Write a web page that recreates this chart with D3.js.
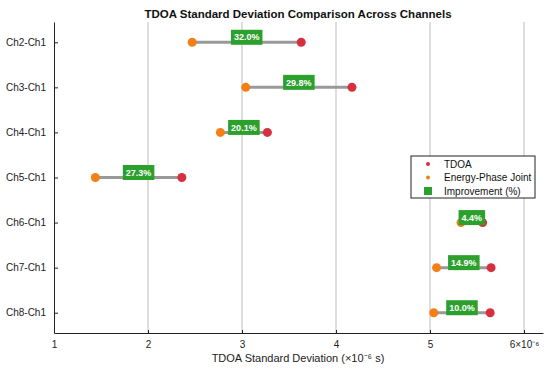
<!DOCTYPE html>
<html>
<head>
<meta charset="utf-8">
<script src="https://cdn.jsdelivr.net/npm/d3@7"></script>
<style>
  body { margin: 0; background: #fff; }
  text { font-family: "Liberation Sans", Arial, sans-serif; }
</style>
</head>
<body>
<svg width="550" height="371"></svg>
<script>
// values in units of 1e-6 s
const channels = ["Ch2-Ch1", "Ch3-Ch1", "Ch4-Ch1", "Ch5-Ch1", "Ch6-Ch1", "Ch7-Ch1", "Ch8-Ch1"];
const tdoaStd = [3.63, 4.17, 3.27, 2.36, 5.56, 5.65, 5.64];
const jointStd = [2.47, 3.04, 2.77, 1.44, 5.33, 5.07, 5.04];
const improvement = ["32.0%", "29.8%", "20.1%", "27.3%", "4.4%", "14.9%", "10.0%"];
const xTicks = [1, 2, 3, 4, 5, 6];

const red = "#d62f3f";
const orange = "#f57f17";
const green = "#2ca02c";

const svg = d3.select("svg");
const mLeft = 54, mRight = 543, mTop = 22, mBottom = 333;

// tick 6 lands at ~524
const x = d3.scaleLinear()
  .domain([1, 1 + (mRight - mLeft) / ((524 - mLeft) / 5)])
  .range([mLeft, mRight]);

const y = d3.scalePoint().domain(channels).range([mTop, mBottom]).padding(0.45);

// grid
svg.append("g")
  .selectAll("line")
  .data(xTicks.slice(1))
  .enter()
  .append("line")
  .attr("x1", d => x(d)).attr("x2", d => x(d))
  .attr("y1", mTop).attr("y2", mBottom)
  .attr("stroke", "#bdbdbd")
  .attr("stroke-width", 1);

// axes
const xAxis = d3.axisBottom(x).tickValues(xTicks).tickSizeInner(-3).tickSizeOuter(0).tickPadding(8)
  .tickFormat(d => d === 6 ? "6×10⁻⁶" : d);
const gx = svg.append("g").attr("transform", `translate(0,${mBottom})`).call(xAxis);
gx.select(".domain").attr("stroke", "#222");
gx.selectAll(".tick line").attr("stroke", "#222");
gx.selectAll("text").attr("font-size", 10).attr("fill", "#222");

const yAxis = d3.axisLeft(y).tickSizeInner(-4).tickSizeOuter(0).tickPadding(8);
const gy = svg.append("g").attr("transform", `translate(${mLeft},0)`).call(yAxis);
gy.select(".domain").attr("stroke", "#222");
gy.selectAll(".tick line").attr("stroke", "#222");
gy.selectAll("text").attr("font-size", 10).attr("fill", "#222");

// connecting lines
const rows = channels.map((c, i) => ({ c, t: tdoaStd[i], j: jointStd[i], imp: improvement[i] }));

svg.append("g")
  .selectAll("line")
  .data(rows)
  .enter()
  .append("line")
  .attr("x1", d => x(d.j)).attr("x2", d => x(d.t))
  .attr("y1", d => y(d.c)).attr("y2", d => y(d.c))
  .attr("stroke", "#999")
  .attr("stroke-width", 3);

svg.append("g")
  .selectAll("circle")
  .data(rows)
  .enter()
  .append("circle")
  .attr("cx", d => x(d.t)).attr("cy", d => y(d.c))
  .attr("r", 4.5)
  .attr("fill", red);

svg.append("g")
  .selectAll("circle")
  .data(rows)
  .enter()
  .append("circle")
  .attr("cx", d => x(d.j)).attr("cy", d => y(d.c))
  .attr("r", 4.5)
  .attr("fill", orange);

// improvement labels
const lab = svg.append("g")
  .selectAll("g")
  .data(rows)
  .enter()
  .append("g")
  .attr("transform", d => `translate(${(x(d.t) + x(d.j)) / 2},${y(d.c) - 5})`);

lab.append("text")
  .attr("text-anchor", "middle")
  .attr("dy", "0.35em")
  .attr("font-size", 9)
  .attr("font-weight", "bold")
  .attr("fill", "#fff")
  .text(d => d.imp)
  .each(function () {
    const bb = this.getBBox();
    d3.select(this.parentNode).insert("rect", "text")
      .attr("x", bb.x - 3).attr("y", -7.5)
      .attr("width", bb.width + 6).attr("height", 15)
      .attr("fill", green);
  });

// title and axis label
svg.append("text")
  .attr("x", 298).attr("y", 18)
  .attr("text-anchor", "middle")
  .attr("font-size", 11.5)
  .attr("font-weight", "bold")
  .attr("fill", "#111")
  .text("TDOA Standard Deviation Comparison Across Channels");

svg.append("text")
  .attr("x", 298).attr("y", 362)
  .attr("text-anchor", "middle")
  .attr("font-size", 11)
  .attr("fill", "#222")
  .text("TDOA Standard Deviation (×10⁻⁶ s)");

// legend
const leg = svg.append("g").attr("transform", "translate(411,156)");
leg.append("rect")
  .attr("width", 124).attr("height", 42)
  .attr("fill", "#fff")
  .attr("stroke", "#222");
const legItems = [
  { name: "TDOA", color: red, shape: "dot" },
  { name: "Energy-Phase Joint", color: orange, shape: "dot" },
  { name: "Improvement (%)", color: green, shape: "square" }
];
legItems.forEach((d, i) => {
  const yy = 8 + i * 13.5;
  if (d.shape === "dot") {
    leg.append("circle").attr("cx", 17).attr("cy", yy).attr("r", 2).attr("fill", d.color);
  } else {
    leg.append("rect").attr("x", 13).attr("y", yy - 4).attr("width", 8).attr("height", 8).attr("fill", d.color);
  }
  leg.append("text")
    .attr("x", 33).attr("y", yy)
    .attr("dy", "0.35em")
    .attr("font-size", 10)
    .attr("fill", "#111")
    .text(d.name);
});
</script>
</body>
</html>
